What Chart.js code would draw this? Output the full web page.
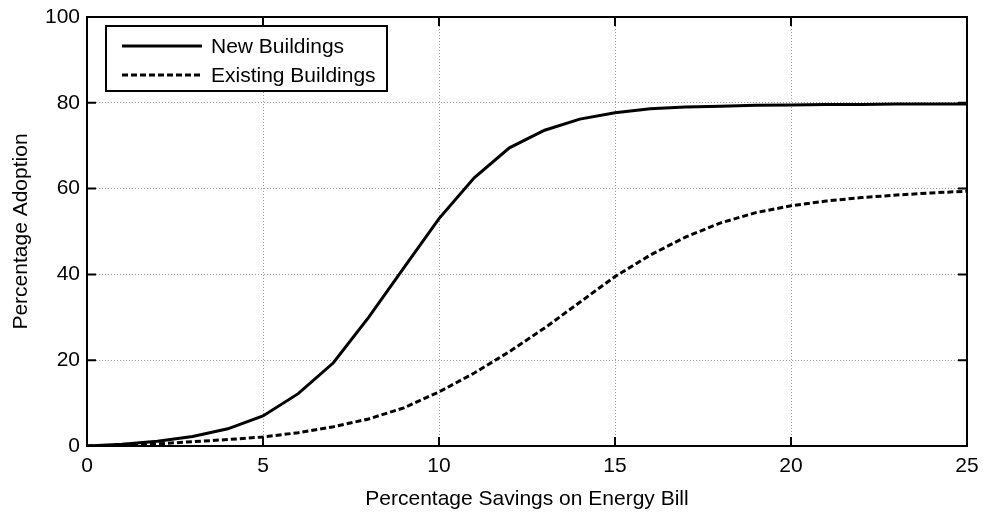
<!DOCTYPE html>
<html>
<head>
<meta charset="utf-8">
<script src="https://cdn.jsdelivr.net/npm/chart.js@4"></script>
<style>
  body { margin: 0; background: #fff; }
  #wrap { width: 983px; height: 512px; }
</style>
</head>
<body>
<div id="wrap"><canvas id="adoptionChart" width="983" height="512"></canvas></div>
<script>
const savings = [0, 1, 2, 3, 4, 5, 6, 7, 8, 9, 10, 11, 12, 13, 14, 15, 16, 17, 18, 19, 20, 21, 22, 23, 24, 25];
const newBuildings = [0, 0.4, 1.1, 2.2, 4.0, 7.0, 12.2, 19.4, 30.0, 41.5, 53.0, 62.5, 69.5, 73.6, 76.2, 77.7, 78.6, 79.0, 79.2, 79.4, 79.5, 79.6, 79.6, 79.7, 79.7, 79.7];
const existingBuildings = [0, 0.2, 0.5, 1.0, 1.5, 2.1, 3.1, 4.5, 6.3, 8.9, 12.6, 17.0, 22.0, 27.5, 33.5, 39.5, 44.5, 48.7, 52.0, 54.4, 56.0, 57.1, 57.9, 58.5, 59.0, 59.4];
const seriesNames = ['New Buildings', 'Existing Buildings'];
const xTicks = [0, 5, 10, 15, 20, 25];
const yTicks = [0, 20, 40, 60, 80, 100];

const FONT = 'Arial, "Liberation Sans", sans-serif';
const FSIZE = 21;

function toPoints(xs, ys) {
    return xs.map((x, i) => ({ x: x, y: ys[i] }));
}

// box, inward ticks and legend drawn on top, MATLAB style
const frame = {
    id: 'frame',
    afterDatasetsDraw(chart) {
        const { ctx, chartArea: a, scales } = chart;
        ctx.save();
        ctx.strokeStyle = '#000';
        ctx.lineWidth = 2;
        ctx.strokeRect(a.left, a.top, a.right - a.left, a.bottom - a.top);
        ctx.beginPath();
        xTicks.forEach(v => {
            const px = scales.x.getPixelForValue(v);
            ctx.moveTo(px, a.bottom); ctx.lineTo(px, a.bottom - 9);
            ctx.moveTo(px, a.top); ctx.lineTo(px, a.top + 9);
        });
        yTicks.forEach(v => {
            const py = scales.y.getPixelForValue(v);
            ctx.moveTo(a.left, py); ctx.lineTo(a.left + 9, py);
            ctx.moveTo(a.right, py); ctx.lineTo(a.right - 9, py);
        });
        ctx.stroke();

        // legend box
        const lx = 106, ly = 26, lw = 281, lh = 65;
        ctx.fillStyle = '#fff';
        ctx.fillRect(lx, ly, lw, lh);
        ctx.lineWidth = 2;
        ctx.strokeRect(lx, ly, lw, lh);
        ctx.font = FSIZE + 'px ' + FONT;
        ctx.textBaseline = 'middle';
        chart.data.datasets.forEach((ds, i) => {
            const y = ly + 20 + i * 29;
            ctx.strokeStyle = '#000';
            ctx.lineWidth = 3;
            ctx.setLineDash(ds.borderDash || []);
            ctx.beginPath();
            ctx.moveTo(122, y); ctx.lineTo(202, y);
            ctx.stroke();
            ctx.setLineDash([]);
            ctx.fillStyle = '#000';
            ctx.fillText(ds.label, 211, y + 1);
        });
        ctx.restore();
    }
};

new Chart(document.getElementById('adoptionChart'), {
    type: 'line',
    data: {
        datasets: [{
            label: seriesNames[0],
            data: toPoints(savings, newBuildings),
            borderColor: '#000',
            borderWidth: 3,
            pointRadius: 0,
            tension: 0,
            fill: false
        }, {
            label: seriesNames[1],
            data: toPoints(savings, existingBuildings),
            borderColor: '#000',
            borderWidth: 3,
            borderDash: [6, 3],
            pointRadius: 0,
            tension: 0,
            fill: false
        }]
    },
    options: {
        responsive: false,
        animation: false,
        layout: { padding: { left: 0, right: 16, top: 17, bottom: 0 } },
        plugins: {
            legend: { display: false },
            tooltip: { enabled: false }
        },
        scales: {
            x: {
                type: 'linear',
                min: 0, max: 25,
                afterBuildTicks: s => { s.ticks = xTicks.map(v => ({ value: v })); },
                afterFit: s => { s.height = 66; s.paddingLeft = 0; s.paddingRight = 0; },
                ticks: { color: '#000', font: { family: FONT, size: FSIZE }, padding: 8, maxRotation: 0 },
                grid: { color: '#999', lineWidth: 1, tickLength: 0, drawTicks: false },
                border: { display: false, dash: [1, 2] },
                title: { display: true, text: 'Percentage Savings on Energy Bill', color: '#000', font: { family: FONT, size: FSIZE }, padding: { top: 2, bottom: 0 } }
            },
            y: {
                min: 0, max: 100,
                afterBuildTicks: s => { s.ticks = yTicks.map(v => ({ value: v })); },
                afterFit: s => { s.width = 87; s.paddingTop = 0; s.paddingBottom = 0; },
                ticks: { color: '#000', font: { family: FONT, size: FSIZE }, padding: 7 },
                grid: { color: '#999', lineWidth: 1, tickLength: 0, drawTicks: false },
                border: { display: false, dash: [1, 2] },
                title: { display: true, text: 'Percentage Adoption', color: '#000', font: { family: FONT, size: FSIZE }, padding: { top: 9, bottom: 0 } }
            }
        }
    },
    plugins: [frame]
});
</script>
</body>
</html>
